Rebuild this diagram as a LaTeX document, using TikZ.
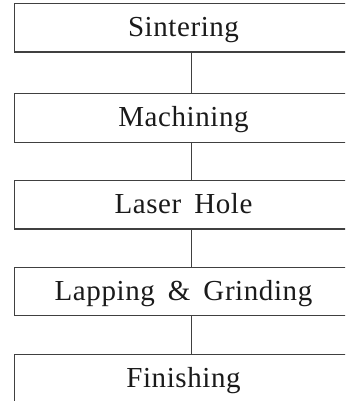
\documentclass[tikz,border=0pt]{standalone}
\usepackage{fontspec}
\setmainfont{Liberation Serif}[LetterSpace=2]
\definecolor{linegray}{HTML}{404040}
\definecolor{textgray}{HTML}{1A1A1A}
\newcommand{\wsp}{\hspace{0.45em}}
\begin{document}
\begin{tikzpicture}[x=1pt,y=-1pt,
  stepbox/.style={draw=linegray, line width=1.2pt, minimum width=354pt, minimum height=48.3pt, inner sep=0pt},
  lbl/.style={font=\fontsize{29}{34}\selectfont, text=textgray, anchor=base, inner sep=0pt},
  link/.style={draw=linegray, line width=1.2pt}]
\useasboundingbox (0,0) rectangle (345,401);
\clip (0,0) rectangle (345,401);
\node[stepbox] (b1) at (191.5,27.85) {};
\node[stepbox] (b2) at (191.5,117.95) {};
\node[stepbox] (b3) at (191.5,204.85) {};
\node[stepbox] (b4) at (191.5,291.45) {};
\node[stepbox] (b5) at (191.5,378.95) {};
\node[lbl] (t1) at (183.5,36.7) {Sintering};
\node[lbl] (t2) at (183.5,126.8) {Machining};
\node[lbl] (t3) at (183.5,213.7) {Laser\wsp Hole};
\node[lbl] (t4) at (183.5,300.3) {Lapping\wsp\&\wsp Grinding};
\node[lbl] (t5) at (183.5,387.8) {Finishing};
\draw[link] (b1.south) -- (b2.north);
\draw[link] (b2.south) -- (b3.north);
\draw[link] (b3.south) -- (b4.north);
\draw[link] (b4.south) -- (b5.north);
\end{tikzpicture}
\end{document}
